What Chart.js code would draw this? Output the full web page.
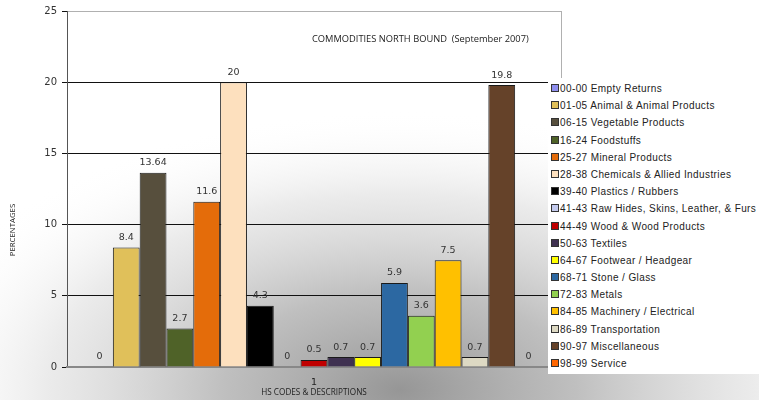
<!DOCTYPE html>
<html>
<head>
<meta charset="utf-8">
<script src="https://cdn.jsdelivr.net/npm/chart.js@4.4.1/dist/chart.umd.min.js"></script>
<style>
  html, body { margin: 0; padding: 0; background: #fff; }
  #wrap { position: relative; width: 759px; height: 400px; overflow: hidden; }
  #legend {
    position: absolute; left: 548px; top: 78px; width: 230px; height: 296px;
    background: #fff; padding-top: 2px; box-sizing: border-box;
    font-family: "Liberation Sans", Arial, sans-serif; font-size: 10px; color: #222;
    letter-spacing: 0.4px;
  }
  #legend div { height: 17.2px; line-height: 17.2px; white-space: nowrap; }
  #legend span.box {
    display: inline-block; width: 6px; height: 6px; border: 1px solid #333;
    margin: 0 1px 0 3px; vertical-align: 0px;
  }
</style>
</head>
<body>
<div id="wrap">
  <canvas id="chart" width="759" height="400"></canvas>
  <div id="legend"></div>
</div>
<script>
// Commodities north bound, September 2007
const categories = ['1'];
const hsCodes = ['00-00', '01-05', '06-15', '16-24', '25-27', '28-38', '39-40', '41-43', '44-49',
                 '50-63', '64-67', '68-71', '72-83', '84-85', '86-89', '90-97', '98-99'];
const descriptions = ['Empty Returns', 'Animal & Animal Products', 'Vegetable Products', 'Foodstuffs',
                      'Mineral Products', 'Chemicals & Allied Industries', 'Plastics / Rubbers',
                      'Raw Hides, Skins, Leather, & Furs', 'Wood & Wood Products', 'Textiles',
                      'Footwear / Headgear', 'Stone / Glass', 'Metals', 'Machinery / Electrical',
                      'Transportation', 'Miscellaneous', 'Service'];
const percentages = [0, 8.4, 13.64, 2.7, 11.6, 20, 4.3, 0, 0.5, 0.7, 0.7, 5.9, 3.6, 7.5, 0.7, 19.8, 0];
const barColors = ['#8f8fef', '#e0c05a', '#574f3d', '#4f6228', '#e46c0a', '#fde0be', '#000000',
                   '#c4cbee', '#c00000', '#3f3151', '#ffff00', '#2c68a2', '#92d050', '#ffc000',
                   '#ddd9c3', '#654229', '#ff6600'];
const yTicks = [0, 5, 10, 15, 20, 25];

// build the html legend
const legendEl = document.getElementById('legend');
legendEl.innerHTML = hsCodes.map((c, i) =>
  `<div><span class="box" style="background:${barColors[i]}"></span>${c} ${descriptions[i]}</div>`
).join('');

// soft grey shading behind the plot
const shadePlugin = {
  id: 'shade',
  beforeDraw(chart) {
    const ctx = chart.ctx;
    ctx.save();
    ctx.fillStyle = '#ffffff';
    ctx.fillRect(0, 0, chart.width, chart.height);
    ctx.translate(400, 390);
    ctx.scale(1.8, 1);
    const g = ctx.createRadialGradient(0, 0, 0, 0, 0, 280);
    g.addColorStop(0, 'rgba(150,150,150,1)');
    g.addColorStop(0.35, 'rgba(180,180,180,0.85)');
    g.addColorStop(0.7, 'rgba(215,215,215,0.5)');
    g.addColorStop(1, 'rgba(255,255,255,0)');
    ctx.fillStyle = g;
    ctx.fillRect(-400, -400, 800, 800);
    ctx.restore();
  },
  afterDraw(chart) {
    const ctx = chart.ctx;
    const a = chart.chartArea;
    ctx.save();
    // right border of the plot
    ctx.strokeStyle = '#b0b0b0';
    ctx.lineWidth = 1;
    ctx.beginPath();
    ctx.moveTo(a.right + 0.5, a.top);
    ctx.lineTo(a.right + 0.5, a.bottom);
    ctx.stroke();
    // title inside the plot
    ctx.fillStyle = '#222';
    ctx.font = '9.3px "Open Sans", sans-serif';
    ctx.textBaseline = 'middle';
    ctx.textAlign = 'left';
    ctx.fillText('COMMODITIES NORTH BOUND  (September 2007)', 312, 39);
    // y axis title
    ctx.translate(13, 230);
    ctx.rotate(-Math.PI / 2);
    ctx.textAlign = 'center';
    ctx.font = '7.8px "Open Sans", sans-serif';
    ctx.fillText('PERCENTAGES', 0, 0);
    ctx.restore();
  }
};

// value labels above bars
const valueLabels = {
  id: 'valueLabels',
  afterDatasetsDraw(chart) {
    const ctx = chart.ctx;
    ctx.save();
    ctx.fillStyle = '#333';
    ctx.font = '9.5px "DejaVu Sans", sans-serif';
    ctx.textAlign = 'center';
    ctx.textBaseline = 'middle';
    chart.data.datasets.forEach((ds, i) => {
      const bar = chart.getDatasetMeta(i).data[0];
      ctx.fillText(String(ds.data[0]), bar.x, bar.y - 10);
    });
    ctx.restore();
  }
};

new Chart(document.getElementById('chart'), {
  type: 'bar',
  data: {
    labels: categories,
    datasets: hsCodes.map((c, i) => ({
      label: c + ' ' + descriptions[i],
      data: [percentages[i]],
      backgroundColor: barColors[i],
      borderColor: '#1a1a1a',
      borderWidth: 1,
      barPercentage: 1,
      categoryPercentage: 0.923
    }))
  },
  options: {
    responsive: false,
    animation: false,
    layout: { padding: { left: 0, right: 198, top: 11, bottom: 0 } },
    plugins: {
      legend: { display: false },
      tooltip: { enabled: false }
    },
    scales: {
      y: {
        min: 0,
        max: 25,
        afterBuildTicks: s => { s.ticks = yTicks.map(v => ({ value: v })); },
        afterFit: s => { s.width = 67; },
        grid: {
          color: c => c.tick && c.tick.value === 25 ? '#b0b0b0' : '#111',
          tickColor: '#111',
          tickLength: 5,
          lineWidth: 1
        },
        border: { color: '#555', width: 1 },
        ticks: {
          padding: 5,
          color: '#333',
          font: { family: '"DejaVu Sans", sans-serif', size: 10 }
        }
      },
      x: {
        afterFit: s => { s.height = 33; },
        grid: { display: false, drawTicks: false },
        border: { color: '#888', width: 2 },
        ticks: {
          padding: 10,
          color: '#222',
          font: { family: '"DejaVu Sans", sans-serif', size: 9.5 }
        },
        title: {
          display: true,
          text: 'HS CODES & DESCRIPTIONS',
          color: '#222',
          padding: { top: 0, bottom: 2 },
          font: { family: '"Open Sans", sans-serif', size: 8.2 }
        }
      }
    }
  },
  plugins: [shadePlugin, valueLabels]
});
</script>
</body>
</html>
